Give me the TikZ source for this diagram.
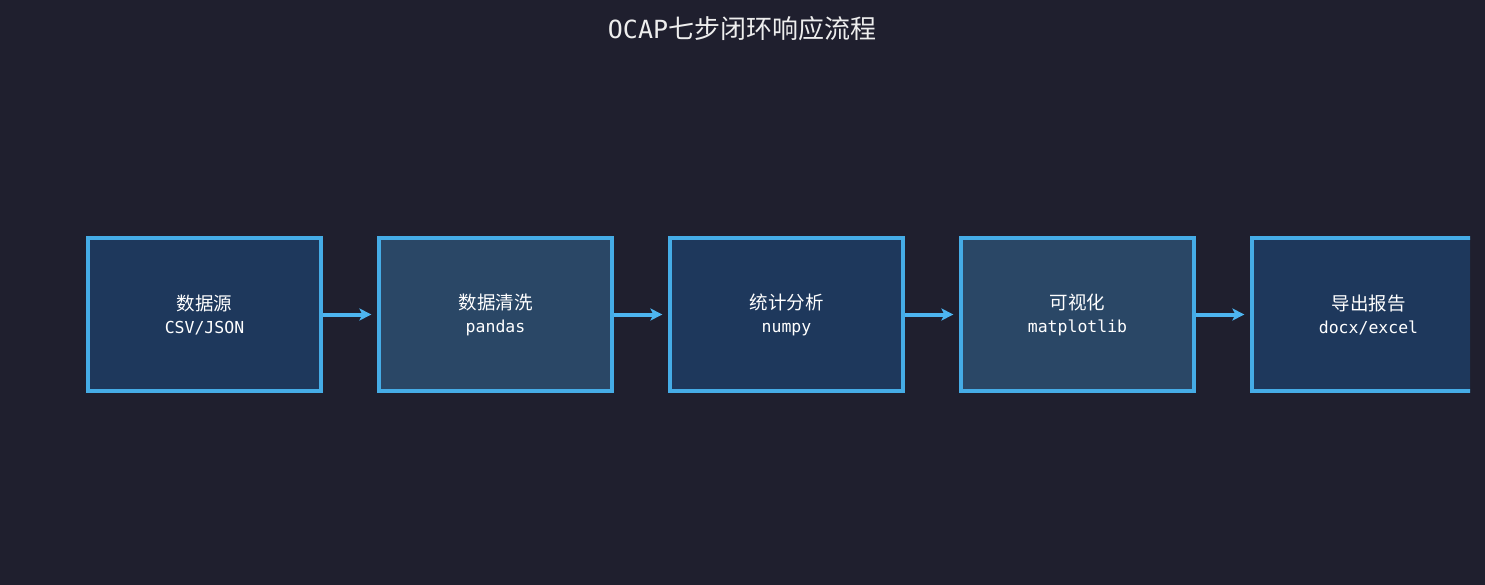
\documentclass[tikz,border=0pt]{standalone}
\usepackage{fontspec}
\setmainfont{DejaVu Sans Mono}
\newfontfamily\cjk{Noto Sans CJK SC}
\usetikzlibrary{arrows.meta}
\definecolor{bgc}{HTML}{1F1F2E}
\definecolor{boxa}{HTML}{1E385C}
\definecolor{boxb}{HTML}{2A4766}
\definecolor{edgec}{HTML}{45ACE6}
\definecolor{arrc}{HTML}{4DB5F0}
\definecolor{txtc}{HTML}{EEEEEE}
\tikzset{
  stepbox/.style={draw=edgec, line width=3.2pt, minimum width=233pt, minimum height=153pt, inner sep=0pt, text=white, align=center, font=\fontsize{16.5}{23}\selectfont},
  flowarrow/.style={draw=arrc, line width=4pt, -{Stealth[length=12pt,width=12pt,inset=3pt]}},
}
\newcommand{\boxlabel}[2]{{\cjk\fontsize{18.5}{23}\selectfont #1}\\{\fontsize{16.5}{23}\selectfont #2}}
\begin{document}
\begin{tikzpicture}[x=1pt,y=-1pt]
\fill[bgc] (0,0) rectangle (1485,585);
\useasboundingbox (0,0) rectangle (1485,585);
\node[text=txtc, inner sep=0pt] (title) at (742,29) {\fontsize{25}{28}\selectfont OCAP{\cjk\fontsize{26}{28}\selectfont 七步闭环响应流程}};
\begin{scope}
\clip (0,0) rectangle (1470,585);
\node[stepbox, fill=boxa] (s1) at (204.5,314.5) {\boxlabel{数据源}{CSV/JSON}};
\node[stepbox, fill=boxb] (s2) at (495.5,314.5) {\boxlabel{数据清洗}{pandas}};
\node[stepbox, fill=boxa] (s3) at (786.5,314.5) {\boxlabel{统计分析}{numpy}};
\node[stepbox, fill=boxb] (s4) at (1077.5,314.5) {\boxlabel{可视化}{matplotlib}};
\node[stepbox, fill=boxa] (s5) at (1368.5,314.5) {\boxlabel{导出报告}{docx/excel}};
\end{scope}
\foreach \a/\b in {s1/s2,s2/s3,s3/s4,s4/s5}{
  \draw[flowarrow] (\a.east) -- ([xshift=-6pt]\b.west);
}
\end{tikzpicture}
\end{document}
